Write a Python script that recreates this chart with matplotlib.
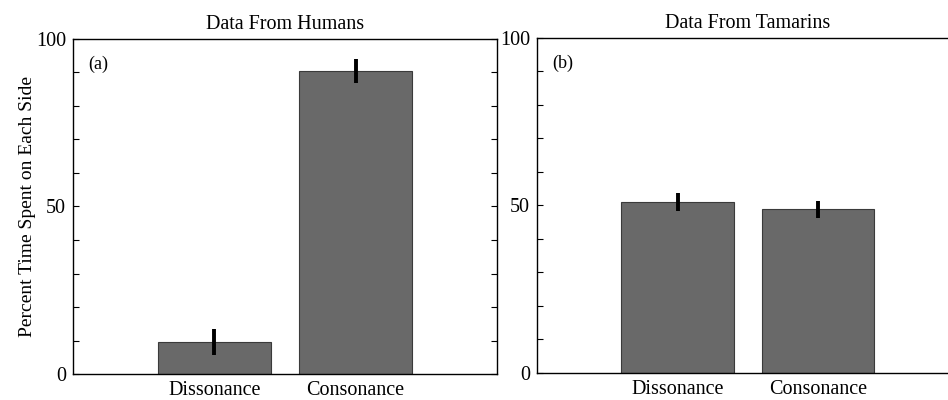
import matplotlib.pyplot as plt
from matplotlib.ticker import MultipleLocator, FixedLocator

plt.rcParams['font.family'] = ['Liberation Serif', 'DejaVu Serif']

# Mean percent time and error (half-length) per condition
conditions = ['Dissonance', 'Consonance']
human_means = [9.6, 90.4]
human_err = [3.8, 3.5]
tamarin_means = [51.0, 48.8]
tamarin_err = [2.6, 2.6]

fig = plt.figure(figsize=(9.48, 4.0), dpi=100)
ax1 = fig.add_axes([0.077, 0.065, 0.447, 0.8375])
ax2 = fig.add_axes([0.5665, 0.068, 0.4446, 0.8375])

bar_color = '#696969'
edge_color = '#3a3a3a'


def draw_panel(ax, means, errs, title, tag):
    x = range(len(conditions))
    ax.bar(x, means, width=0.8, color=bar_color, edgecolor=edge_color, linewidth=0.8)
    ax.errorbar(x, means, yerr=errs, fmt='none', ecolor='black',
                elinewidth=2.8, capsize=0)
    ax.set_xlim(-1, 2)
    ax.set_ylim(0, 100)
    ax.set_xticks(list(x))
    ax.set_xticklabels(conditions, fontsize=14.5)
    ax.tick_params(axis='x', length=0, pad=5)
    ax.yaxis.set_major_locator(FixedLocator([0, 50, 100]))
    ax.yaxis.set_minor_locator(MultipleLocator(10))
    ax.tick_params(axis='y', which='both', direction='in', length=4,
                   width=0.8, labelsize=14.5, pad=5)
    ax.set_title(title, fontsize=14.5, pad=7)
    ax.text(0.035, 0.95, tag, transform=ax.transAxes, fontsize=13,
            va='top', ha='left')
    for sp in ax.spines.values():
        sp.set_linewidth(1.0)


draw_panel(ax1, human_means, human_err, 'Data From Humans', '(a)')
draw_panel(ax2, tamarin_means, tamarin_err, 'Data From Tamarins', '(b)')

# inward ticks on the right spine of the first panel, no labels there
ax1.tick_params(axis='y', which='both', right=True, labelright=False)

ax1.set_ylabel('Percent Time Spent on Each Side', fontsize=14, labelpad=0)

fig.savefig('out.png', dpi=100)
